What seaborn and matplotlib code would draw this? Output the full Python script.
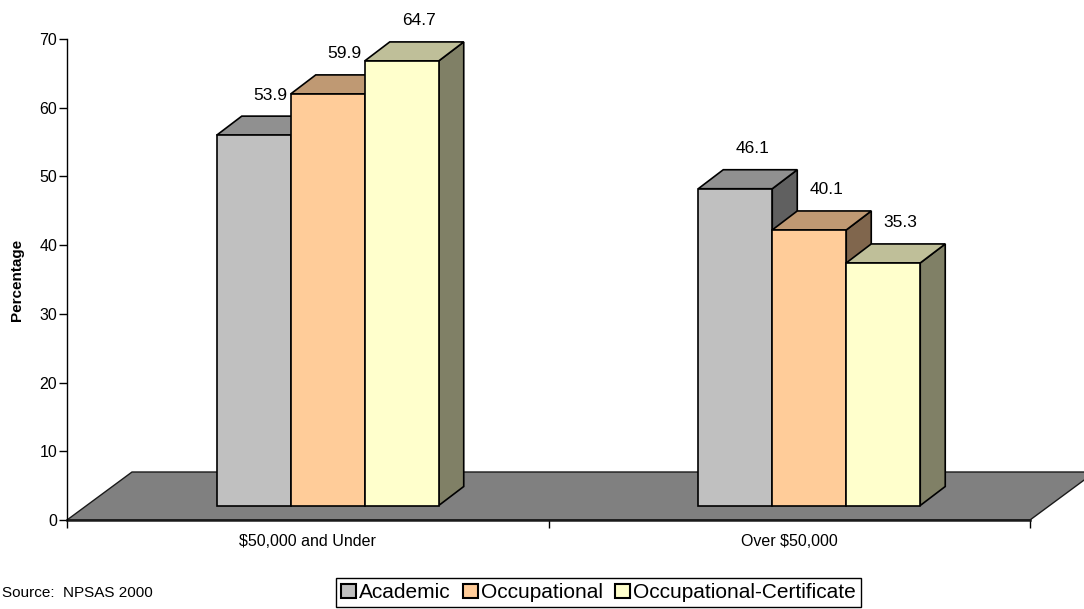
import numpy as np
import pandas as pd
import matplotlib
matplotlib.use("Agg")
import matplotlib.pyplot as plt
from matplotlib.patches import Polygon, Patch, Rectangle
from matplotlib.colors import to_rgb
import seaborn as sns

# ---- data -------------------------------------------------------------
income_groups = ["$50,000 and Under", "Over $50,000"]
program_types = ["Academic", "Occupational", "Occupational-Certificate"]
academic = [53.9, 46.1]
occupational = [59.9, 40.1]
certificate = [64.7, 35.3]
y_ticks = [0, 10, 20, 30, 40, 50, 60, 70]
y_label = "Percentage"
source_note = "Source:  NPSAS 2000"

front_colors = ["#C0C0C0", "#FFCC99", "#FFFFCC"]
floor_color = "#808080"

series = {"Academic": academic, "Occupational": occupational,
          "Occupational-Certificate": certificate}
df = pd.DataFrame(
    [(grp, kind, series[kind][i])
     for i, grp in enumerate(income_groups) for kind in program_types],
    columns=["income", "type", "pct"],
)

# ---- style ------------------------------------------------------------
sns.set_theme(style="white", rc={"text.color": "black",
                                 "axes.labelcolor": "black",
                                 "xtick.color": "black",
                                 "ytick.color": "black"})
plt.rcParams["font.family"] = ["Liberation Sans", "DejaVu Sans"]

W, H = 1084, 609
fig = plt.figure(figsize=(W / 100, H / 100), dpi=100)
ax_left, ax_bottom, ax_w, ax_h = 67, 89, 963, 481
ax = fig.add_axes([ax_left / W, ax_bottom / H, ax_w / W, ax_h / H])

sns.barplot(data=df, x="income", y="pct", hue="type",
            order=income_groups, hue_order=program_types,
            palette=front_colors, saturation=1, width=0.461, gap=0,
            edgecolor="black", linewidth=1.2, legend=False, ax=ax)
bars = sorted([p for p in ax.patches if isinstance(p, Rectangle)],
              key=lambda p: p.get_x())

xmin, xmax, ymin, ymax = -0.5, 1.5, 0, 70
ax.set_xlim(xmin, xmax)
ax.set_ylim(ymin, ymax)

# pixel -> data conversions for the oblique depth offsets
px_x = ax_w / (xmax - xmin)
px_y = ax_h / (ymax - ymin)
inset_dx, inset_dy = 20 / px_x, 14.5 / px_y   # bar front relative to floor front
depth_dx, depth_dy = 25 / px_x, 19 / px_y     # bar depth
floor_dx, floor_dy = 65 / px_x, 48 / px_y     # floor depth

# floor plane
floor = Polygon([(xmin, 0), (xmax, 0), (xmax + floor_dx, floor_dy),
                 (xmin + floor_dx, floor_dy)],
                closed=True, facecolor=floor_color, edgecolor="#1a1a1a",
                linewidth=1.0, zorder=1, clip_on=False)
ax.add_patch(floor)

# 3-D boxes built from each seaborn bar
for k, bar in enumerate(bars):
    h = bar.get_height()
    w = bar.get_width()
    x0 = bar.get_x() + inset_dx
    x1 = x0 + w
    y0 = inset_dy
    y1 = y0 + h
    base = np.array(to_rgb(bar.get_facecolor()))
    z = 3 + k * 0.1
    bar.set_x(x0)
    bar.set_y(y0)
    bar.set_zorder(z + 0.02)
    bar.set_clip_on(False)
    side = Polygon([(x1, y0), (x1 + depth_dx, y0 + depth_dy),
                    (x1 + depth_dx, y1 + depth_dy), (x1, y1)],
                   closed=True, facecolor=base * 0.5, edgecolor="black",
                   linewidth=1.2, zorder=z, clip_on=False)
    top = Polygon([(x0, y1), (x1, y1), (x1 + depth_dx, y1 + depth_dy),
                   (x0 + depth_dx, y1 + depth_dy)],
                  closed=True, facecolor=base * 0.75, edgecolor="black",
                  linewidth=1.2, zorder=z + 0.01, clip_on=False)
    ax.add_patch(side)
    ax.add_patch(top)
    ax.annotate(f"{h:.1f}", xy=((x0 + x1) / 2, y1), xytext=(17, 40),
                textcoords="offset pixels", ha="center", va="center",
                fontsize=12.5, zorder=10, annotation_clip=False)

# ---- axes -------------------------------------------------------------
ax.set_yticks(y_ticks)
ax.tick_params(axis="y", which="major", left=True, length=6, width=1,
               pad=1, labelsize=11.5, direction="out")
ax.set_xticks([0, 1])
ax.set_xticklabels(income_groups)
ax.set_xticks([xmin, 0.5, xmax], minor=True)
ax.tick_params(axis="x", which="major", bottom=True, length=0, pad=10,
               labelsize=11.5)
ax.tick_params(axis="x", which="minor", bottom=True, length=6, width=1,
               direction="out")

for s in ("top", "right"):
    ax.spines[s].set_visible(False)
ax.spines["left"].set_color("black")
ax.spines["left"].set_linewidth(1.0)
ax.spines["bottom"].set_color("#1a1a1a")
ax.spines["bottom"].set_linewidth(1.8)
ax.spines["bottom"].set_zorder(2)

ax.set_xlabel("")
ax.set_ylabel(y_label, fontsize=11, fontweight="bold")
ax.yaxis.set_label_coords(-0.045, 0.5)

# ---- legend & source ----------------------------------------------------
handles = [Patch(facecolor=c, edgecolor="black", linewidth=1.5, label=t)
           for c, t in zip(front_colors, program_types)]
leg = fig.legend(handles=handles, loc="upper left",
                 bbox_to_anchor=(336 / W, 1 - 578 / H), ncol=3, fontsize=15,
                 frameon=True, fancybox=False, edgecolor="black",
                 framealpha=1, handlelength=0.7, handleheight=0.7,
                 handletextpad=0.15, columnspacing=0.6, borderpad=0.25,
                 borderaxespad=0)
leg.get_frame().set_linewidth(1.0)

fig.text(2 / W, 1 - 593 / H, source_note, fontsize=11,
         ha="left", va="center")

fig.savefig("out.png", dpi=100)
